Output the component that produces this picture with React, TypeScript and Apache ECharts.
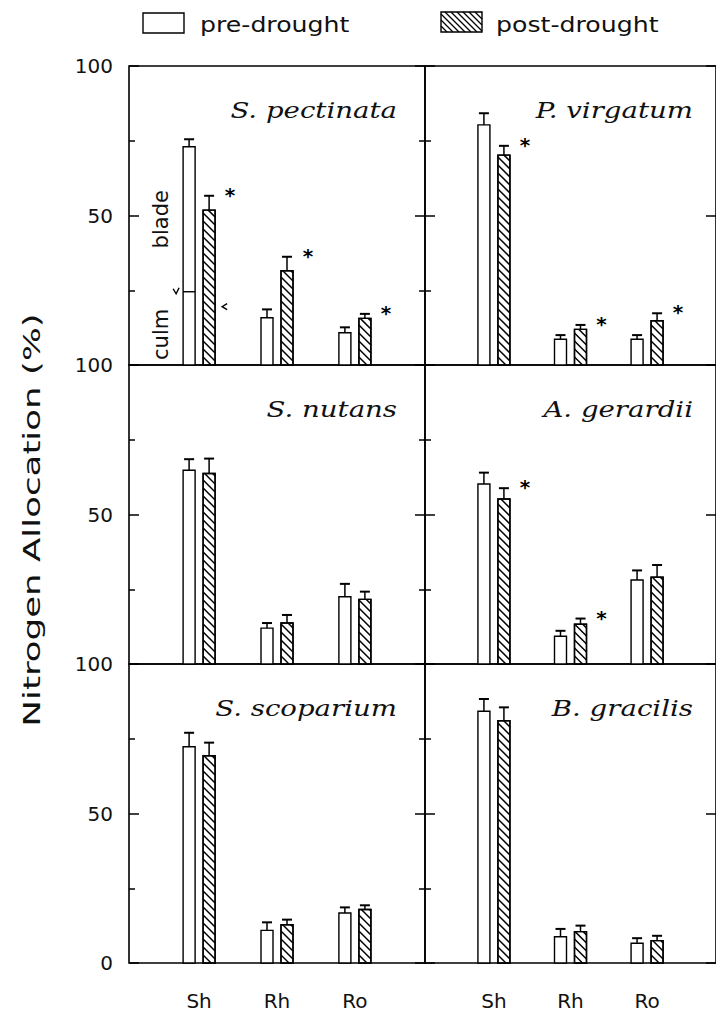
import React, { useEffect, useRef } from 'react';
import * as echarts from 'echarts';

// ---------- data ----------
const categories = ['Sh', 'Rh', 'Ro'];
const species = ['S. pectinata', 'P. virgatum', 'S. nutans', 'A. gerardii', 'S. scoparium', 'B. gracilis'];
const treatments = ['pre-drought', 'post-drought'];

// mean nitrogen allocation (%) per species (rows) and organ (Sh, Rh, Ro)
const preMeans = [
  [73.0, 15.8, 10.8],
  [80.3, 8.6, 8.6],
  [64.8, 12.0, 22.5],
  [60.2, 9.3, 28.1],
  [72.3, 10.9, 16.7],
  [84.2, 8.8, 6.6],
];
const preErrors = [
  [2.5, 2.8, 1.8],
  [3.9, 1.4, 1.4],
  [3.7, 1.7, 4.3],
  [3.8, 1.8, 3.2],
  [4.7, 2.7, 1.9],
  [4.1, 2.6, 1.7],
];
const postMeans = [
  [51.8, 31.5, 15.6],
  [70.2, 11.9, 14.8],
  [63.7, 13.7, 21.6],
  [55.2, 13.3, 29.0],
  [69.3, 12.8, 17.9],
  [81.0, 10.5, 7.5],
];
const postErrors = [
  [4.8, 4.7, 1.5],
  [3.1, 1.5, 2.5],
  [5.0, 2.7, 2.6],
  [3.6, 1.9, 4.1],
  [4.4, 1.7, 1.4],
  [4.5, 2.0, 1.6],
];
const significant = [
  [1, 1, 1],
  [1, 1, 1],
  [0, 0, 0],
  [1, 1, 0],
  [0, 0, 0],
  [0, 0, 0],
];
// culm share of the S. pectinata shoot (the rest is blade)
const culmPre = 24.5;
const culmPost = 19.5;

// ---------- layout ----------
const PLOT_LEFT = 129;
const COL_W = 296;
const ROW_TOP = 66;
const ROW_H = 299;
const BAR_W = 12;
const BAR_OFFSET = 10;
const FONT = 'DejaVu Sans';
const INK = '#111';

function hatchLines(x0: number, y0: number, w: number, h: number, period: number, style: any) {
  const out: any[] = [];
  for (let c = h - period; c > -w; c -= period) {
    const tS = Math.max(0, -c);
    const tE = Math.min(w, h - c);
    if (tE - tS > 0.3) {
      out.push({
        type: 'line',
        shape: { x1: x0 + tS, y1: y0 + c + tS, x2: x0 + tE, y2: y0 + c + tE },
        style,
      });
    }
  }
  return out;
}

function makeRenderer(t: number, g: number) {
  return (params: any, api: any) => {
    const cat = api.value(0);
    const mean = api.value(1);
    const err = api.value(2);
    const sig = api.value(3);
    const base = api.coord([cat, 0]);
    const top = api.coord([cat, mean]);
    const cap = api.coord([cat, mean + err]);
    const cx = base[0] + (t === 0 ? -BAR_OFFSET : BAR_OFFSET);
    const x0 = cx - BAR_W / 2;
    const h = base[1] - top[1];
    const children: any[] = [
      {
        type: 'rect',
        shape: { x: x0, y: top[1], width: BAR_W, height: h },
        style: { fill: '#fff', stroke: '#000', lineWidth: 1.4 },
      },
    ];
    if (t === 1) {
      children.push(...hatchLines(x0, top[1], BAR_W, h, 8, { stroke: '#000', lineWidth: 1.5 }));
      children.push({
        type: 'rect',
        shape: { x: x0, y: top[1], width: BAR_W, height: h },
        style: { fill: 'none', stroke: '#000', lineWidth: 1.4 },
      });
    }
    children.push({
      type: 'line',
      shape: { x1: cx, y1: top[1], x2: cx, y2: cap[1] },
      style: { stroke: '#000', lineWidth: 1.5 },
    });
    children.push({
      type: 'line',
      shape: { x1: cx - 5, y1: cap[1], x2: cx + 5, y2: cap[1] },
      style: { stroke: '#000', lineWidth: 2 },
    });
    if (sig) {
      children.push({
        type: 'text',
        x: cx + 21,
        y: cap[1] - 1,
        style: {
          text: '*',
          fill: '#000',
          fontSize: 20,
          fontWeight: 'bold',
          fontFamily: FONT,
          align: 'center',
          verticalAlign: 'middle',
        },
      });
    }
    if (g === 0 && params.dataIndex === 0) {
      if (t === 0) {
        const cy = api.coord([cat, culmPre])[1];
        children.push({
          type: 'line',
          shape: { x1: x0, y1: cy, x2: x0 + BAR_W, y2: cy },
          style: { stroke: '#000', lineWidth: 1.4 },
        });
        children.push({
          type: 'polyline',
          shape: { points: [[x0 - 10, cy - 3], [x0 - 7, cy + 2], [x0 - 4, cy - 4]] },
          style: { stroke: '#000', fill: 'none', lineWidth: 1.4 },
        });
        const bladeY = api.coord([cat, (culmPre + mean) / 2])[1];
        const culmY = api.coord([cat, culmPre / 2 - 2])[1];
        children.push({
          type: 'text',
          x: x0 - 22,
          y: bladeY,
          rotation: Math.PI / 2,
          style: { text: 'blade', fill: INK, fontSize: 21, fontFamily: FONT, align: 'center', verticalAlign: 'middle' },
        });
        children.push({
          type: 'text',
          x: x0 - 22,
          y: culmY,
          rotation: Math.PI / 2,
          style: { text: 'culm', fill: INK, fontSize: 21, fontFamily: FONT, align: 'center', verticalAlign: 'middle' },
        });
      } else {
        const cy = api.coord([cat, culmPost])[1];
        const xr = x0 + BAR_W + 9;
        children.push({
          type: 'polyline',
          shape: { points: [[xr + 3, cy - 3], [xr - 2, cy], [xr + 3, cy + 3]] },
          style: { stroke: '#000', fill: 'none', lineWidth: 1.4 },
        });
      }
    }
    return { type: 'group', children };
  };
}

export default function App() {
  const ref = useRef<HTMLDivElement>(null);

  useEffect(() => {
    if (!ref.current) return;
    const chart = echarts.init(ref.current, null, { renderer: 'svg' });

    const grids: any[] = [];
    const xAxes: any[] = [];
    const yAxes: any[] = [];
    const series: any[] = [];
    const graphics: any[] = [];

    for (let g = 0; g < 6; g++) {
      const r = Math.floor(g / 2);
      const c = g % 2;
      const left = PLOT_LEFT + c * COL_W;
      const top = ROW_TOP + r * ROW_H;
      grids.push({
        left,
        top,
        width: COL_W,
        height: ROW_H,
        show: true,
        borderColor: '#000',
        borderWidth: 1.6,
        backgroundColor: 'transparent',
        containLabel: false,
      });
      xAxes.push({
        gridIndex: g,
        type: 'value',
        min: -0.9,
        max: 2.9,
        splitLine: { show: false },
        axisLine: { show: false, onZero: false },
        axisTick: { show: false },
        axisLabel:
          r === 2
            ? {
                show: true,
                customValues: [0, 1, 2],
                formatter: (v: number) => (Number.isInteger(v) ? categories[v] ?? '' : ''),
                margin: 28,
                fontSize: 20,
                fontFamily: FONT,
                color: INK,
              }
            : { show: false },
      });
      const tickCommon = {
        axisLine: { show: false, onZero: false },
        axisTick: { show: true, inside: true, length: 10, lineStyle: { color: '#000', width: 1.5 } },
        splitLine: { show: false },
        minorSplitLine: { show: false },
      };
      const minor = { show: true, splitNumber: 2, length: 6, lineStyle: { color: '#000', width: 1.5 } };
      yAxes.push({
        gridIndex: g,
        type: 'value',
        position: 'left',
        min: 0,
        max: 100,
        interval: 50,
        ...tickCommon,
        minorTick: minor,
        axisLabel:
          c === 0
            ? {
                show: true,
                margin: 16,
                fontSize: 20,
                fontFamily: FONT,
                color: INK,
                showMinLabel: true,
                showMaxLabel: true,
                formatter: (v: number) => (v === 0 && r < 2 ? '' : String(v)),
              }
            : { show: false },
      });
      yAxes.push({
        gridIndex: g,
        type: 'value',
        position: 'right',
        min: 0,
        max: 100,
        interval: 50,
        ...tickCommon,
        minorTick: c === 0 ? minor : { show: false },
        axisLabel: { show: false },
      });

      const means = [preMeans[g], postMeans[g]];
      const errs = [preErrors[g], postErrors[g]];
      for (let t = 0; t < 2; t++) {
        series.push({
          type: 'custom',
          name: treatments[t],
          xAxisIndex: g,
          yAxisIndex: 2 * g,
          clip: false,
          silent: true,
          data: categories.map((_, i) => [i, means[t][i], errs[t][i], t === 1 ? significant[g][i] : 0]),
          renderItem: makeRenderer(t, g),
        });
      }

      graphics.push({
        type: 'text',
        x: left + COL_W - 28,
        y: top + 44,
        scaleX: 1.2,
        style: {
          text: species[g],
          fill: INK,
          fontSize: 23,
          fontFamily: 'DejaVu Serif',
          fontStyle: 'italic',
          align: 'right',
          verticalAlign: 'middle',
        },
      });
    }

    // y-axis title
    graphics.push({
      type: 'text',
      x: 32,
      y: 520,
      rotation: Math.PI / 2,
      scaleX: 1.55,
      style: {
        text: 'Nitrogen Allocation (%)',
        fill: INK,
        fontSize: 23,
        fontFamily: FONT,
        align: 'center',
        verticalAlign: 'middle',
      },
    });

    // legend
    graphics.push({
      type: 'rect',
      shape: { x: 143, y: 13, width: 41, height: 20 },
      style: { fill: '#fff', stroke: '#000', lineWidth: 1.4 },
    });
    graphics.push({
      type: 'text',
      x: 200,
      y: 24,
      scaleX: 1.2,
      style: { text: treatments[0], fill: INK, fontSize: 21, fontFamily: FONT, align: 'left', verticalAlign: 'middle' },
    });
    graphics.push({
      type: 'group',
      children: [
        { type: 'rect', shape: { x: 441, y: 12, width: 41, height: 20 }, style: { fill: '#fff', stroke: 'none' } },
        ...hatchLines(441, 12, 41, 20, 6, { stroke: '#000', lineWidth: 1.3 }),
        {
          type: 'rect',
          shape: { x: 441, y: 12, width: 41, height: 20 },
          style: { fill: 'none', stroke: '#000', lineWidth: 1.4 },
        },
      ],
    });
    graphics.push({
      type: 'text',
      x: 496,
      y: 24,
      scaleX: 1.2,
      style: { text: treatments[1], fill: INK, fontSize: 21, fontFamily: FONT, align: 'left', verticalAlign: 'middle' },
    });

    chart.setOption({
      animation: false,
      backgroundColor: '#fff',
      grid: grids,
      xAxis: xAxes,
      yAxis: yAxes,
      series,
      graphic: graphics,
    });

    return () => chart.dispose();
  }, []);

  return (
    <div
      ref={ref}
      style={{ position: 'absolute', left: 0, top: 0, width: 716, height: 1019 }}
    />
  );
}
